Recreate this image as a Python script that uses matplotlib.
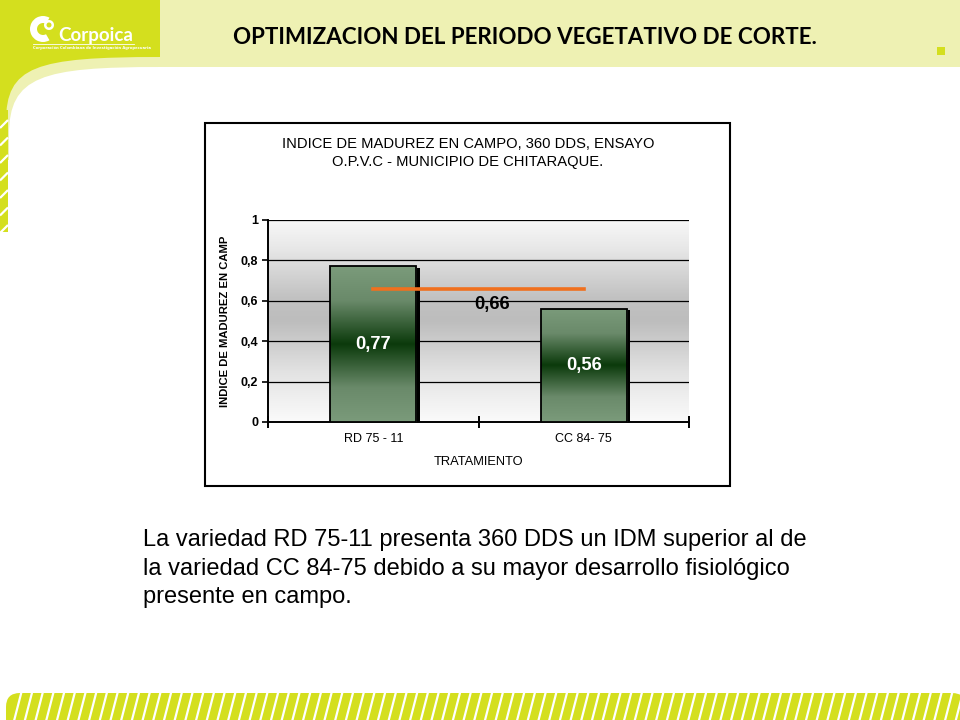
import numpy as np
import matplotlib
matplotlib.use("Agg")
import matplotlib.pyplot as plt
from matplotlib.colors import LinearSegmentedColormap
from matplotlib.patches import Rectangle, FancyBboxPatch, PathPatch, Wedge
from matplotlib.path import Path

# ---------------- data ----------------
categories = ["RD 75 - 11", "CC 84- 75"]
values = [0.77, 0.56]
value_labels = ["0,77", "0,56"]
mean_value = 0.66
mean_label = "0,66"
yticks = [0, 0.2, 0.4, 0.6, 0.8, 1]
ytick_labels = ["0", "0,2", "0,4", "0,6", "0,8", "1"]
chart_title = "INDICE DE MADUREZ EN CAMPO, 360 DDS, ENSAYO\nO.P.V.C - MUNICIPIO DE CHITARAQUE."
ylabel = "INDICE DE MADUREZ EN CAMP"
xlabel = "TRATAMIENTO"
slide_title = "OPTIMIZACION DEL PERIODO VEGETATIVO DE CORTE."
body_lines = [
    "La variedad RD 75-11 presenta 360 DDS un IDM superior al de",
    "la variedad CC 84-75 debido a su mayor desarrollo fisiológico",
    "presente en campo.",
]

W, H = 960, 720
GREEN = "#d4df1e"
LIGHT = "#eef1b3"
SANS = ["Liberation Sans", "DejaVu Sans"]

fig = plt.figure(figsize=(9.6, 7.2), dpi=100)
fig.patch.set_facecolor("white")

# ---------------- slide decoration (pixel coordinates) ----------------
bg = fig.add_axes([0, 0, 1, 1], zorder=0)
bg.set_xlim(0, W)
bg.set_ylim(H, 0)
bg.axis("off")

bg.add_patch(Rectangle((0, 0), W, 67, color=LIGHT, lw=0))
bg.add_patch(Rectangle((0, 0), 170, 160, color=LIGHT, lw=0))
# green block with curved lower edge
verts = [(0, 0), (160, 0), (160, 57), (35, 57), (6, 66), (6, 122), (6, 232), (0, 232), (0, 0)]
codes = [Path.MOVETO, Path.LINETO, Path.LINETO, Path.CURVE4, Path.CURVE4, Path.CURVE4,
         Path.LINETO, Path.LINETO, Path.CLOSEPOLY]
bg.add_patch(PathPatch(Path(verts, codes), facecolor=GREEN, lw=0))
# white rounded page area
wverts = [(W + 10, 67), (160, 67), (42, 67), (9, 76), (9, 135), (9, H + 10), (W + 10, H + 10),
          (W + 10, 67)]
wcodes = [Path.MOVETO, Path.LINETO, Path.CURVE4, Path.CURVE4, Path.CURVE4, Path.LINETO,
          Path.LINETO, Path.CLOSEPOLY]
bg.add_patch(PathPatch(Path(wverts, wcodes), facecolor="white", lw=0))
# left strip green + stripes
bg.add_patch(Rectangle((0, 110), 8, 122, color=GREEN, lw=0))
for yy in np.arange(120, 232, 17.5):
    bg.plot([0, 8], [yy + 8, yy], color="white", lw=1.6, solid_capstyle="butt")
# small square top right
bg.add_patch(Rectangle((937, 47), 8, 8, color=GREEN, lw=0))

# logo
bg.add_patch(Wedge((43, 29), 13, 60, 300, width=7, color="white", lw=0))
bg.add_patch(Wedge((49, 25), 5, 0, 360, width=2.5, color="white", lw=0))
bg.text(58, 35, "Corpoica", color="white", fontsize=13.5, fontweight="bold",
        family=["Lato", "DejaVu Sans"], ha="left", va="center")
bg.plot([33, 134], [44, 44], color="white", lw=0.6)
bg.text(33, 48, "Corporación Colombiana de Investigación Agropecuaria", color="white",
        fontsize=2.7, fontweight="bold", ha="left", va="center")

# slide title
bg.text(524.5, 37, slide_title, fontsize=16.1, fontweight="bold",
        family=["Lato", "DejaVu Sans"], ha="center", va="center", color="black")

# bottom striped band
band = FancyBboxPatch((6, 693), W, 40, boxstyle="round,pad=0,rounding_size=14",
                      facecolor=GREEN, lw=0)
bg.add_patch(band)
for xx in np.arange(14, W + 20, 10.7):
    ln, = bg.plot([xx, xx + 8], [721, 690], color="white", lw=1.6, solid_capstyle="butt")
    ln.set_clip_path(band)

# chart outer box
bg.add_patch(Rectangle((205, 123), 525, 363, facecolor="white", edgecolor="black", lw=1.5))
bg.text(468, 153, chart_title, fontsize=10.6, ha="center", va="center",
        linespacing=1.35, family=SANS, color="black")

# body text
for i, line in enumerate(body_lines):
    bg.text(143, 540 + i * 28.5, line, fontsize=17, ha="left", va="center", family=SANS)

# ---------------- chart ----------------
left, right, top, bottom = 268, 689, 220, 422
ax = fig.add_axes([left / W, 1 - bottom / H, (right - left) / W, (bottom - top) / H], zorder=2)
ax.set_xlim(-0.5, 1.5)
ax.set_ylim(0, 1)

bg_cmap = LinearSegmentedColormap.from_list(
    "bgc", [(0, "#fbfbfb"), (0.25, "#e2e2e2"), (0.5, "#bdbdbd"), (0.62, "#c2c2c2"),
            (0.85, "#e6e6e6"), (1, "#f8f8f8")])
grad = np.linspace(0, 1, 256).reshape(-1, 1)
ax.imshow(grad, extent=(-0.5, 1.5, 0, 1), origin="lower", aspect="auto", cmap=bg_cmap, zorder=0)

for yv in yticks[1:]:
    ax.axhline(yv, color="black", lw=0.9, zorder=1)

bar_cmap = LinearSegmentedColormap.from_list(
    "barc", [(0, "#7b9b7b"), (0.22, "#6a8a6a"), (0.5, "#0b3a0b"), (0.78, "#6a8a6a"), (1, "#7b9b7b")])
bw = 0.41
xs = np.arange(len(categories))
for x, v, lab in zip(xs, values, value_labels):
    ax.add_patch(Rectangle((x - bw / 2 + 0.016, 0), bw, v - 0.008, facecolor="black", lw=0, zorder=2))
    rect = Rectangle((x - bw / 2, 0), bw, v, facecolor="none", edgecolor="black", lw=1.3, zorder=4)
    ax.add_patch(rect)
    im = ax.imshow(grad, extent=(x - bw / 2, x + bw / 2, 0, v), origin="lower", aspect="auto",
                   cmap=bar_cmap, zorder=3)
    im.set_clip_path(rect)
    ax.text(x, v / 2, lab, color="white", fontsize=13.2, fontweight="bold", ha="center",
            va="center", zorder=6, family=SANS)

ax.plot([xs[0], xs[-1]], [mean_value, mean_value], color="#f0701e", lw=2.6, zorder=5)
ax.text(0.566, mean_value - 0.035, mean_label, color="black", fontsize=13.2, fontweight="bold",
        ha="center", va="top", zorder=6, family=SANS)

ax.set_xlim(-0.5, 1.5)
ax.set_ylim(0, 1)
ax.spines["top"].set_visible(False)
ax.spines["right"].set_visible(False)
ax.spines["left"].set_linewidth(1.4)
ax.spines["bottom"].set_linewidth(1.4)
ax.set_yticks(yticks)
ax.set_yticklabels(ytick_labels, fontsize=9, fontweight="bold", family=SANS)
ax.tick_params(axis="y", direction="out", length=4, width=1.2, pad=3)
ax.set_xticks(xs)
ax.set_xticklabels(categories, fontsize=9, family=SANS)
ax.tick_params(axis="x", which="major", length=0, pad=8)
ax.set_xticks([-0.5, 0.5, 1.5], minor=True)
ax.tick_params(axis="x", which="minor", direction="inout", length=9, width=1.4)
ax.set_xlabel(xlabel, fontsize=9.3, labelpad=8, family=SANS)
ax.set_ylabel(ylabel, fontsize=8.1, fontweight="bold", labelpad=8, family=SANS)

fig.savefig("out.png", dpi=100)
